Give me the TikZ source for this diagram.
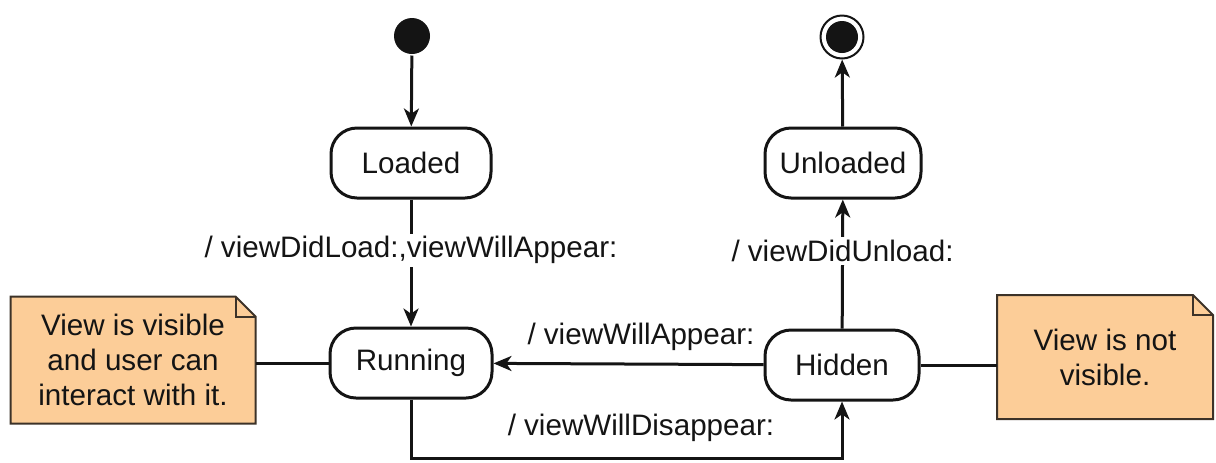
\documentclass[tikz,border=0pt]{standalone}
\usepackage{fontspec}
\setmainfont{Liberation Sans}
\usetikzlibrary{arrows.meta,backgrounds,calc}
\definecolor{notefill}{RGB}{252,205,152}
\definecolor{noteline}{RGB}{60,50,40}
\definecolor{ink}{RGB}{20,20,20}
\begin{document}
\begin{tikzpicture}[x=0.5pt,y=-0.5pt,
  font=\fontsize{14.8}{17.5}\selectfont,
  every path/.style={line width=1.5pt},
  draw=ink, text=ink,
  arr/.style={line width=1.5pt, -{Stealth[length=9pt,width=7.5pt,inset=2.6pt]}},
  conn/.style={line width=1.5pt},
  state/.style={draw=ink, line width=1.5pt, rounded corners=13pt, minimum height=35pt, fill=white, inner sep=0pt},
  note/.style={align=center, inner sep=0pt},
  lbl/.style={fill=white, inner sep=1.5pt}]
\useasboundingbox (0,0) rectangle (1216,462);

% states
\node[circle, fill=ink, minimum size=18pt, inner sep=0pt] (init) at (412,36) {};
\node[circle, draw=ink, line width=1pt, minimum size=21.5pt, inner sep=0pt] (fin) at (842,37) {};
\node[circle, fill=ink, minimum size=16pt, inner sep=0pt] (finin) at (842,37) {};
\node[state, minimum width=80pt] (load) at (411,163) {Loaded};
\node[state, minimum width=78pt] (unl) at (843,163) {Unloaded};
\node[state, minimum width=81pt] (run) at (411,363) {Running};
\node[state, minimum width=77pt] (hid) at (842,365) {Hidden};

% notes
\node[note, minimum width=121pt, minimum height=62pt] (n1) at (133,360) {View is visible\\and user can\\interact with it.};
\node[note, minimum width=106.5pt, minimum height=60.5pt] (n2) at (1105,357) {View is not\\visible.};
\begin{scope}[on background layer]
  \foreach \n in {n1,n2}{
    \draw[fill=notefill, draw=noteline, line width=1pt]
      (\n.north west) -- ($(\n.north east)+(-10pt,0)$) -- ($(\n.north east)+(0,-10pt)$)
      -- (\n.south east) -- (\n.south west) -- cycle;
    \draw[draw=noteline, line width=1pt]
      ($(\n.north east)+(-10pt,0)$) -- ($(\n.north east)+(-10pt,-10pt)$) -- ($(\n.north east)+(0,-10pt)$);
  }
\end{scope}

% transitions
\draw[arr] (init) -- (load);
\draw[arr] (load) -- node[lbl, pos=0.4] (l1) {/ viewDidLoad:,viewWillAppear:} (run);
\draw[arr] (hid) -- node[lbl, pos=0.6] (l2) {/ viewDidUnload:} (unl);
\draw[arr] (unl) -- (fin);
\draw[arr] (hid) -- (run);
\node (l3) at (641,337) {/ viewWillAppear:};
\coordinate (lb) at (411,458);
\coordinate (rb) at (842,458);
\draw[arr] (run.south) -- (lb) -- (rb) -- (hid.south);
\node (l4) at (641,428) {/ viewWillDisappear:};

% note anchors
\draw[conn] (run.west) -- (run.west -| n1.east);
\draw[conn] (hid.east) -- (hid.east -| n2.west);
\end{tikzpicture}
\end{document}
